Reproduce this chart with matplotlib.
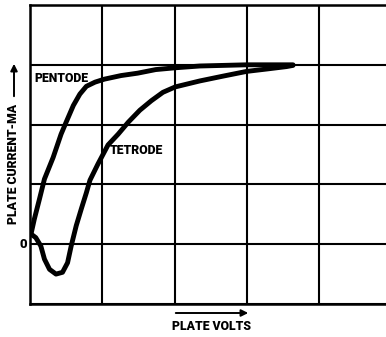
import matplotlib
matplotlib.use("Agg")
import matplotlib.pyplot as plt
from matplotlib.patches import FancyArrowPatch

# Plate characteristic curves (plate volts vs plate current, in grid units)
pentode_v = [0.014, 0.06, 0.13, 0.20, 0.32, 0.43, 0.50, 0.60, 0.69, 0.78, 0.90, 1.03,
             1.26, 1.49, 1.74, 2.01, 2.35, 3.00, 3.41, 3.64]
pentode_i = [0.17, 0.42, 0.75, 1.09, 1.45, 1.84, 2.04, 2.32, 2.51, 2.64, 2.71, 2.76,
             2.82, 2.86, 2.92, 2.95, 2.98, 3.00, 3.00, 3.00]

tetrode_v = [0.014, 0.08, 0.15, 0.20, 0.27, 0.36, 0.45, 0.52, 0.57, 0.64, 0.71, 0.78,
             0.83, 0.94, 1.08, 1.22, 1.36, 1.52, 1.68, 1.84, 2.01, 2.35, 2.67, 3.00,
             3.28, 3.55, 3.64]
tetrode_i = [0.17, 0.11, -0.03, -0.25, -0.42, -0.50, -0.47, -0.31, -0.03, 0.31, 0.59, 0.86,
             1.07, 1.34, 1.66, 1.84, 2.04, 2.24, 2.40, 2.54, 2.63, 2.73, 2.81, 2.89,
             2.93, 2.97, 2.99]

x_grid = [0, 1, 2, 3, 4]
y_grid = [-1, 0, 1, 2, 3, 4]

W, H = 386, 337
fig = plt.figure(figsize=(W / 100, H / 100), dpi=100)
fig.patch.set_facecolor("white")

FONT = ["Roboto", "DejaVu Sans"]

ax = fig.add_axes([30 / W, 33 / H, 356 / W, 299 / H])
ax.set_xlim(0, 356 / 72.25)
ax.set_ylim(-1, 4)
ax.set_xticks(x_grid)
ax.set_yticks(y_grid)
ax.tick_params(length=0, labelbottom=False, labelleft=False)
ax.grid(True, color="black", linewidth=1.5)
for side in ("left", "top", "bottom"):
    ax.spines[side].set_linewidth(1.8)
ax.spines["right"].set_visible(False)

ax.plot(pentode_v, pentode_i, color="black", linewidth=3.5,
        solid_capstyle="round", solid_joinstyle="round", zorder=3)
ax.plot(tetrode_v, tetrode_i, color="black", linewidth=3.5,
        solid_capstyle="round", solid_joinstyle="round", zorder=3)


def px(x, y):
    return x / W, 1 - y / H


lbl = dict(family=FONT, fontweight="heavy", color="black")
fig.text(*px(34, 79), "PENTODE", ha="left", va="center", fontsize=8.8, **lbl)
fig.text(*px(110, 151), "TETRODE", ha="left", va="center", fontsize=8.8, **lbl)
fig.text(*px(23, 244), "0", ha="center", va="center", fontsize=9.5, **lbl)
fig.text(*px(14, 164), "PLATE CURRENT-MA", ha="center", va="center",
         rotation=90, fontsize=8.8, **lbl)
fig.text(*px(211, 326), "PLATE VOLTS", ha="center", va="center", fontsize=8.8, **lbl)

# direction arrows next to the axis titles
fig.patches.append(FancyArrowPatch(px(14, 99), px(14, 61), transform=fig.transFigure,
                                   arrowstyle="-|>,head_length=4,head_width=2",
                                   color="black", linewidth=1.4))
fig.patches.append(FancyArrowPatch(px(173, 313), px(251, 313), transform=fig.transFigure,
                                   arrowstyle="-|>,head_length=4,head_width=2",
                                   color="black", linewidth=1.4))

fig.savefig("out.png", dpi=100, facecolor="white")
